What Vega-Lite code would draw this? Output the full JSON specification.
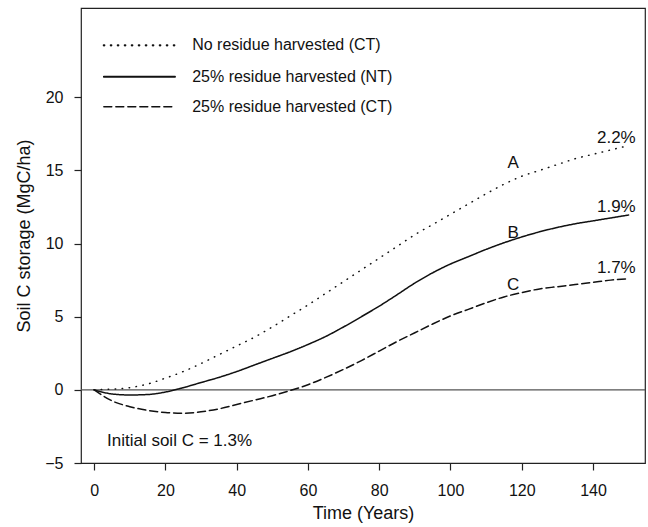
{
  "$schema": "https://vega.github.io/schema/vega-lite/v6.json",
  "autosize": {"type": "none"},
  "padding": {"left": 81, "top": 8, "right": 3, "bottom": 64},
  "width": 564,
  "height": 455,
  "background": "white",
  "config": {
    "font": "Liberation Sans",
    "view": {"stroke": "#222", "strokeWidth": 1.2},
    "axis": {"domain": false, "grid": false, "tickColor": "#222", "tickWidth": 1.2, "labelColor": "#111", "titleColor": "#111", "labelFont": "Liberation Sans", "titleFont": "Liberation Sans", "labelFontSize": 16, "titleFontSize": 18, "titleFontWeight": "normal"}
  },
  "datasets": {
    "curves": [
      {"t": 0, "c": 0, "s": "A"}, {"t": 5, "c": 0.05, "s": "A"}, {"t": 10, "c": 0.15, "s": "A"}, {"t": 15, "c": 0.4, "s": "A"}, {"t": 20, "c": 0.8, "s": "A"}, {"t": 25, "c": 1.25, "s": "A"}, {"t": 30, "c": 1.8, "s": "A"}, {"t": 35, "c": 2.4, "s": "A"}, {"t": 40, "c": 3.0, "s": "A"}, {"t": 45, "c": 3.6, "s": "A"}, {"t": 50, "c": 4.3, "s": "A"}, {"t": 55, "c": 5.05, "s": "A"}, {"t": 60, "c": 5.8, "s": "A"}, {"t": 65, "c": 6.6, "s": "A"}, {"t": 70, "c": 7.4, "s": "A"}, {"t": 75, "c": 8.2, "s": "A"}, {"t": 80, "c": 9.0, "s": "A"}, {"t": 85, "c": 9.8, "s": "A"}, {"t": 90, "c": 10.6, "s": "A"}, {"t": 95, "c": 11.3, "s": "A"}, {"t": 100, "c": 12.0, "s": "A"}, {"t": 105, "c": 12.7, "s": "A"}, {"t": 110, "c": 13.4, "s": "A"}, {"t": 115, "c": 14.05, "s": "A"}, {"t": 120, "c": 14.6, "s": "A"}, {"t": 125, "c": 15.0, "s": "A"}, {"t": 130, "c": 15.4, "s": "A"}, {"t": 135, "c": 15.8, "s": "A"}, {"t": 140, "c": 16.1, "s": "A"}, {"t": 145, "c": 16.4, "s": "A"}, {"t": 150, "c": 16.7, "s": "A"},
      {"t": 0, "c": 0, "s": "B"}, {"t": 5, "c": -0.28, "s": "B"}, {"t": 10, "c": -0.35, "s": "B"}, {"t": 15, "c": -0.32, "s": "B"}, {"t": 20, "c": -0.15, "s": "B"}, {"t": 25, "c": 0.15, "s": "B"}, {"t": 30, "c": 0.5, "s": "B"}, {"t": 35, "c": 0.85, "s": "B"}, {"t": 40, "c": 1.25, "s": "B"}, {"t": 45, "c": 1.7, "s": "B"}, {"t": 50, "c": 2.15, "s": "B"}, {"t": 55, "c": 2.6, "s": "B"}, {"t": 60, "c": 3.1, "s": "B"}, {"t": 65, "c": 3.65, "s": "B"}, {"t": 70, "c": 4.3, "s": "B"}, {"t": 75, "c": 5.0, "s": "B"}, {"t": 80, "c": 5.72, "s": "B"}, {"t": 85, "c": 6.5, "s": "B"}, {"t": 90, "c": 7.3, "s": "B"}, {"t": 95, "c": 8.0, "s": "B"}, {"t": 100, "c": 8.6, "s": "B"}, {"t": 105, "c": 9.1, "s": "B"}, {"t": 110, "c": 9.6, "s": "B"}, {"t": 115, "c": 10.05, "s": "B"}, {"t": 120, "c": 10.45, "s": "B"}, {"t": 125, "c": 10.8, "s": "B"}, {"t": 130, "c": 11.1, "s": "B"}, {"t": 135, "c": 11.35, "s": "B"}, {"t": 140, "c": 11.55, "s": "B"}, {"t": 145, "c": 11.75, "s": "B"}, {"t": 150, "c": 11.95, "s": "B"},
      {"t": 0, "c": 0, "s": "C"}, {"t": 5, "c": -0.75, "s": "C"}, {"t": 10, "c": -1.15, "s": "C"}, {"t": 15, "c": -1.4, "s": "C"}, {"t": 20, "c": -1.55, "s": "C"}, {"t": 25, "c": -1.6, "s": "C"}, {"t": 30, "c": -1.5, "s": "C"}, {"t": 35, "c": -1.3, "s": "C"}, {"t": 40, "c": -1.0, "s": "C"}, {"t": 45, "c": -0.7, "s": "C"}, {"t": 50, "c": -0.4, "s": "C"}, {"t": 55, "c": -0.05, "s": "C"}, {"t": 60, "c": 0.35, "s": "C"}, {"t": 65, "c": 0.85, "s": "C"}, {"t": 70, "c": 1.4, "s": "C"}, {"t": 75, "c": 2.0, "s": "C"}, {"t": 80, "c": 2.65, "s": "C"}, {"t": 85, "c": 3.3, "s": "C"}, {"t": 90, "c": 3.9, "s": "C"}, {"t": 95, "c": 4.5, "s": "C"}, {"t": 100, "c": 5.05, "s": "C"}, {"t": 105, "c": 5.5, "s": "C"}, {"t": 110, "c": 5.95, "s": "C"}, {"t": 115, "c": 6.35, "s": "C"}, {"t": 120, "c": 6.65, "s": "C"}, {"t": 125, "c": 6.9, "s": "C"}, {"t": 130, "c": 7.05, "s": "C"}, {"t": 135, "c": 7.2, "s": "C"}, {"t": 140, "c": 7.35, "s": "C"}, {"t": 145, "c": 7.5, "s": "C"}, {"t": 150, "c": 7.6, "s": "C"}
    ],
    "legend": [
      {"s": "A", "x1": 2.7, "x2": 22.7, "y": 23.55, "label": "No residue harvested (CT)", "tx": 27.5},
      {"s": "B", "x1": 2.7, "x2": 22.7, "y": 21.4, "label": "25% residue harvested (NT)", "tx": 27.5},
      {"s": "C", "x1": 2.7, "x2": 22.7, "y": 19.35, "label": "25% residue harvested (CT)", "tx": 27.5}
    ],
    "letters": [
      {"x": 117.6, "y": 15.5, "text": "A"},
      {"x": 117.6, "y": 10.7, "text": "B"},
      {"x": 117.6, "y": 7.2, "text": "C"}
    ],
    "pcts": [
      {"x": 152, "y": 17.2, "text": "2.2%"},
      {"x": 152, "y": 12.5, "text": "1.9%"},
      {"x": 152, "y": 8.35, "text": "1.7%"}
    ],
    "initial": [
      {"x": 3.6, "y": -3.5, "text": "Initial soil C = 1.3%"}
    ]
  },
  "layer": [
    {
      "data": {"values": [{"z": 0}]},
      "mark": {"type": "rule", "color": "#555", "strokeWidth": 1.2},
      "encoding": {"y": {"field": "z", "type": "quantitative", "scale": {"domain": [-5, 26.1]}}}
    },
    {
      "data": {"name": "curves"},
      "mark": {"type": "line", "color": "#111", "strokeWidth": 1.5, "strokeCap": "round", "interpolate": "monotone"},
      "encoding": {
        "x": {"field": "t", "type": "quantitative", "scale": {"domain": [-3.7, 154.6], "nice": false, "zero": false}, "axis": {"values": [0, 20, 40, 60, 80, 100, 120, 140], "tickSize": 7, "labelPadding": 12, "title": "Time (Years)", "titlePadding": 6}},
        "y": {"field": "c", "type": "quantitative", "scale": {"domain": [-5, 26.1], "nice": false, "zero": false}, "axis": {"values": [-5, 0, 5, 10, 15, 20], "tickSize": 7, "labelPadding": 11, "title": "Soil C storage (MgC/ha)", "titlePadding": 11}},
        "strokeDash": {"field": "s", "type": "nominal", "scale": {"domain": ["A", "B", "C"], "range": [[0.5, 6.5], [1, 0], [8, 4]]}, "legend": null},
        "strokeWidth": {"field": "s", "type": "nominal", "scale": {"domain": ["A", "B", "C"], "range": [2.2, 1.4, 1.5]}, "legend": null},
        "detail": {"field": "s"}
      }
    },
    {
      "data": {"name": "legend"},
      "mark": {"type": "rule", "color": "#111", "strokeCap": "round"},
      "encoding": {
        "x": {"field": "x1", "type": "quantitative"},
        "x2": {"field": "x2"},
        "y": {"field": "y", "type": "quantitative"},
        "strokeDash": {"field": "s", "type": "nominal", "scale": {"domain": ["A", "B", "C"], "range": [[0.5, 6.5], [1, 0], [8, 4]]}, "legend": null},
        "strokeWidth": {"field": "s", "type": "nominal", "scale": {"domain": ["A", "B", "C"], "range": [2.2, 1.4, 1.5]}, "legend": null}
      }
    },
    {
      "data": {"name": "legend"},
      "mark": {"type": "text", "align": "left", "baseline": "middle", "fontSize": 16, "color": "#111"},
      "encoding": {
        "x": {"field": "tx", "type": "quantitative"},
        "y": {"field": "y", "type": "quantitative"},
        "text": {"field": "label"}
      }
    },
    {
      "data": {"name": "letters"},
      "mark": {"type": "text", "align": "center", "baseline": "middle", "fontSize": 17, "color": "#111"},
      "encoding": {
        "x": {"field": "x", "type": "quantitative"},
        "y": {"field": "y", "type": "quantitative"},
        "text": {"field": "text"}
      }
    },
    {
      "data": {"name": "pcts"},
      "mark": {"type": "text", "align": "right", "baseline": "middle", "fontSize": 17, "color": "#111"},
      "encoding": {
        "x": {"field": "x", "type": "quantitative"},
        "y": {"field": "y", "type": "quantitative"},
        "text": {"field": "text"}
      }
    },
    {
      "data": {"name": "initial"},
      "mark": {"type": "text", "align": "left", "baseline": "middle", "fontSize": 17, "color": "#111"},
      "encoding": {
        "x": {"field": "x", "type": "quantitative"},
        "y": {"field": "y", "type": "quantitative"},
        "text": {"field": "text"}
      }
    }
  ]
}
